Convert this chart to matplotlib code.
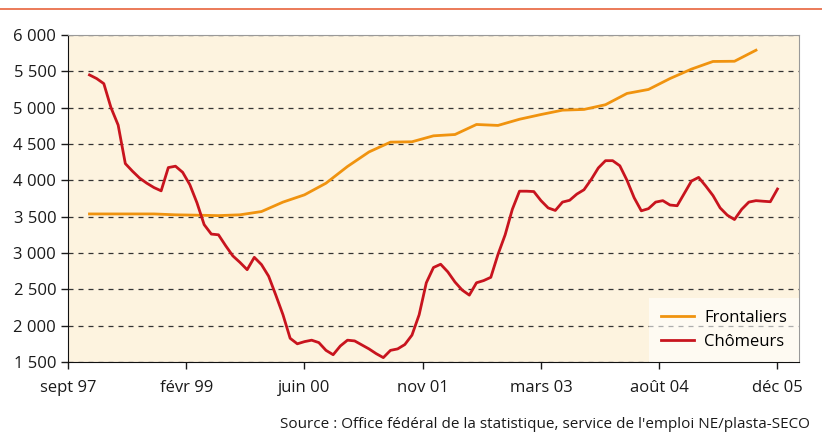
import matplotlib.pyplot as plt
from matplotlib.lines import Line2D
from matplotlib.ticker import FuncFormatter

# Months counted from sept 1997
front_months = [3, 6, 9, 12, 15, 18, 21, 24, 27, 30, 33, 36, 39, 42, 45, 48,
                51, 54, 57, 60, 63, 66, 69, 72, 75, 78, 81, 84, 87, 90, 93, 96]
frontaliers = [3537, 3537, 3537, 3537, 3525, 3520, 3514, 3525, 3570, 3700, 3800, 3960,
               4190, 4390, 4525, 4530, 4612, 4630, 4768, 4755, 4840, 4905, 4965, 4975,
               5040, 5195, 5250, 5400, 5530, 5635, 5638, 5790]

chom_start = 3
chomeurs = [5450, 5400, 5330, 5000, 4760, 4230, 4125, 4030, 3960, 3900,
            3855, 4175, 4194, 4110, 3940, 3690, 3390, 3260, 3250, 3100,
            2960, 2870, 2770, 2940, 2840, 2680, 2420, 2150, 1826, 1750,
            1780, 1800, 1767, 1660, 1600, 1720, 1800, 1790, 1735, 1680,
            1615, 1560, 1660, 1680, 1740, 1870, 2150, 2590, 2800, 2845,
            2740, 2600, 2490, 2420, 2590, 2620, 2665, 2980, 3250, 3600,
            3850, 3850, 3845, 3720, 3620, 3585, 3700, 3725, 3810, 3870,
            4010, 4170, 4270, 4270, 4200, 4000, 3760, 3580, 3610, 3700,
            3720, 3660, 3650, 3820, 3990, 4040, 3920, 3790, 3620, 3520,
            3460, 3600, 3700, 3720, 3712, 3705, 3880]
chom_months = list(range(chom_start, chom_start + len(chomeurs)))

tick_labels = ["sept 97", "févr 99", "juin 00", "nov 01", "mars 03", "août 04", "déc 05"]
tick_pos = [i * 16.5 for i in range(len(tick_labels))]

plt.rcParams["font.family"] = ["Open Sans", "DejaVu Sans"]

fig = plt.figure(figsize=(8.22, 4.48), dpi=100)
ax = fig.add_axes([0.0827, 0.192, 0.8893, 0.730])
ax.set_facecolor("#fdf3df")

# Thin rule at the top of the figure
fig.add_artist(Line2D([0, 1], [0.979, 0.979], transform=fig.transFigure,
                      color="#e8643c", linewidth=1.2))

ax.plot(front_months, frontaliers, color="#f0930f", linewidth=2, label="Frontaliers")
ax.plot(chom_months, chomeurs, color="#c8141e", linewidth=2, label="Chômeurs")

ax.set_xlim(0, 102)
ax.set_ylim(1500, 6000)
ax.set_xticks(tick_pos)
ax.set_xticklabels(tick_labels)
ax.set_yticks(range(1500, 6001, 500))
ax.yaxis.set_major_formatter(FuncFormatter(lambda v, p: f"{int(v):,}".replace(",", " ")))
ax.tick_params(axis="both", labelsize=12, colors="#1a1a1a", length=5, width=1)
ax.tick_params(axis="x", pad=8)

ax.yaxis.grid(True, linestyle=(0, (4, 4)), color="#333333", linewidth=0.9)
ax.set_axisbelow(True)

for side in ("top", "right"):
    ax.spines[side].set_color("#999999")
for side in ("left", "bottom"):
    ax.spines[side].set_color("#111111")

leg = ax.legend(loc="lower right", frameon=True, fontsize=12, handlelength=2.0,
                handletextpad=0.6, borderaxespad=0, borderpad=0.7, labelspacing=0.5)
leg.get_frame().set_facecolor("white")
leg.get_frame().set_alpha(0.6)
leg.get_frame().set_edgecolor("none")
leg.get_frame().set_boxstyle("square", pad=0)

fig.text(0.985, 0.035, "Source : Office fédéral de la statistique, service de l'emploi NE/plasta-SECO",
         ha="right", va="bottom", fontsize=11, color="#1a1a1a")

fig.savefig("out.png", dpi=100)
